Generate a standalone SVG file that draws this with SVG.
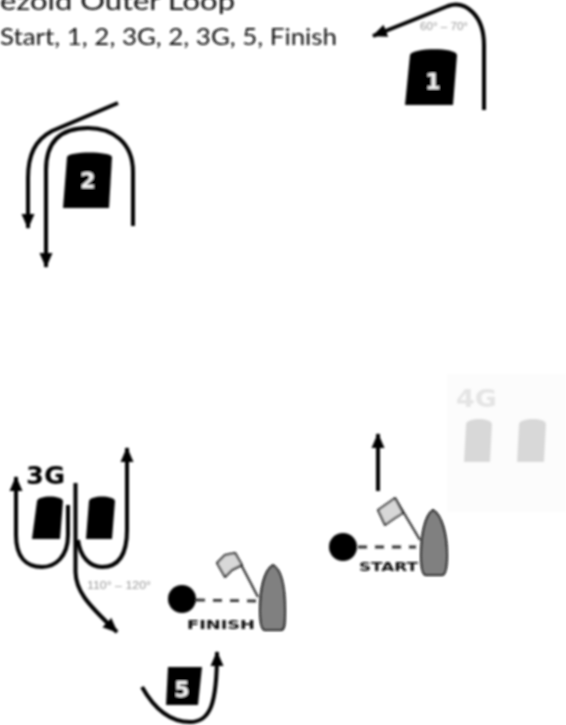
<svg xmlns="http://www.w3.org/2000/svg" width="566" height="725" viewBox="0 0 566 725">
<defs>
<filter id="soft" x="-2%" y="-2%" width="104%" height="104%"><feGaussianBlur stdDeviation="0.8"/></filter>
<marker id="ah" markerUnits="userSpaceOnUse" markerWidth="18" markerHeight="18" refX="14" refY="8" orient="auto"><path d="M0,1.500 L15,8 L0,14.500 Z" fill="#000"/></marker>
</defs>
<style>
.title{font-family:"Lato","Liberation Sans",sans-serif;fill:#111}
.num{font-family:"DejaVu Sans",sans-serif;font-weight:700;fill:#f2f2f2;text-anchor:middle}
.gl{font-family:"DejaVu Sans",sans-serif;font-weight:700;fill:#000}
.ang{font-family:"Liberation Sans",sans-serif;font-size:11.500px;fill:#999}
.lbl{font-family:"DejaVu Sans",sans-serif;font-weight:700;font-size:13px;fill:#111}
.mark{fill:#000}
.mark4{fill:#d8d8d8}
.conn{fill:none;stroke:#000;stroke-width:4}
.buoy{fill:#000}
.dash{stroke:#333;stroke-width:2.800;stroke-dasharray:9 8;fill:none}
.boat{fill:#808080;stroke:#000;stroke-width:2}
.flag{fill:#d8d8d8;stroke:#222;stroke-width:2;stroke-linejoin:round}
.pole{stroke:#222;stroke-width:2;fill:none}
</style>
<rect width="566" height="725" fill="#fff"/>
<g filter="url(#soft)">
<g id="title">
<text class="title" x="0" y="10" font-size="25" textLength="235" lengthAdjust="spacingAndGlyphs">ezoid Outer Loop</text>
<text class="title" x="0" y="45" font-size="23" textLength="337" lengthAdjust="spacingAndGlyphs">Start, 1, 2, 3G, 2, 3G, 5, Finish</text>
</g>
<g id="gate-4g">
<rect x="447" y="374" width="119" height="138" fill="#fcfcfc"/>
<text x="456" y="407" font-family="DejaVu Sans,sans-serif" font-weight="700" font-size="24" fill="#e4e4e4" textLength="41" lengthAdjust="spacingAndGlyphs">4G</text>
<path class="mark4" d="M466,424 C467,418 490,417 492,424 L490,462 L464,462 Z"/>
<path class="mark4" d="M519,424 C520,418 545,417 546,424 L544,462 L517,462 Z"/>
</g>
<g id="connectors">
<path class="conn" marker-end="url(#ah)" d="M484,110 L484,45 C484,15 465,0 448,6 L373,36"/>
<path class="conn" marker-end="url(#ah)" d="M118,103 L52,131 C35,140 28,155 28,178 L28,228"/>
<path class="conn" marker-end="url(#ah)" d="M133,226 L133,172 C133,142 112,128 88,128 C62,128 46,140 46,170 L46,267"/>
<path class="conn" marker-end="url(#ah)" d="M68,505 L68,535 C68,557 55,567 42,567 C26,567 16,557 16,535 L16,477"/>
<path class="conn" marker-end="url(#ah)" d="M78,540 C80,557 90,567 102,567 C118,567 127,555 127,530 L127,448"/>
<path class="conn" marker-end="url(#ah)" d="M75.500,483 L75.500,572 C76,590 85,602 117,632"/>
<path class="conn" marker-end="url(#ah)" d="M142,687 C155,710 170,722 190,722 C210,722 217,705 217,652"/>
<path class="conn" marker-end="url(#ah)" d="M378,491 L378,434"/>
</g>
<g id="mark-1">
<path class="mark" d="M410,55 C412,48 455,47 457,55 L453,105 L405,105 Z"/>
<text class="num" x="433" y="89" font-size="22">1</text>
</g>
<text class="ang" x="420" y="30" textLength="48" lengthAdjust="spacingAndGlyphs">60° – 70°</text>
<g id="mark-2">
<path class="mark" d="M67,157 C68,151 111,151 112,157 L109,208 L63,208 Z"/>
<text class="num" x="88" y="188" font-size="22">2</text>
</g>
<g id="gate-3g">
<text class="gl" x="26" y="484" font-size="24" textLength="39" lengthAdjust="spacingAndGlyphs">3G</text>
<path class="mark" d="M37,501 C38,495 62,495 63,501 L60,539 L32,539 Z"/>
<path class="mark" d="M89,501 C90,495 114,495 115,501 L112,539 L86,539 Z"/>
</g>
<text class="ang" x="87" y="589" textLength="64" lengthAdjust="spacingAndGlyphs">110° – 120°</text>
<g id="finish">
<circle class="buoy" cx="182" cy="599" r="14"/>
<path class="dash" d="M196,600 L256,601"/>
<path class="pole" d="M258,597 L235,553"/>
<path class="flag" d="M217,563 L225,555 L235,553 L242,565 L232,570 L225,577 Z"/>
<path class="boat" d="M273,565 C264,570 260,590 260,610 C260,622 261,630 265,630 L281,630 C285,630 285,622 285,610 C285,590 282,570 273,565 Z"/>
<text class="lbl" x="187" y="629" textLength="68" lengthAdjust="spacingAndGlyphs">FINISH</text>
</g>
<g id="mark-5">
<path class="mark" d="M168,667 L202,667 L198,705 L166,705 Z"/>
<text class="num" x="182" y="697" font-size="22">5</text>
</g>
<g id="start">
<circle class="buoy" cx="343" cy="547" r="14"/>
<path class="dash" d="M358,547 L416,547"/>
<path class="pole" d="M420,540 L395,498"/>
<path class="flag" d="M378,510 L388,503 L395,498 L403,513 L395,518 L385,525 Z"/>
<path class="boat" d="M433,510 C425,515 421,535 421,555 C421,567 422,575 426,575 L442,575 C446,575 447,567 447,555 C447,535 442,515 433,510 Z"/>
<text class="lbl" x="359" y="571" textLength="59" lengthAdjust="spacingAndGlyphs">START</text>
</g>
</g>
</svg>
